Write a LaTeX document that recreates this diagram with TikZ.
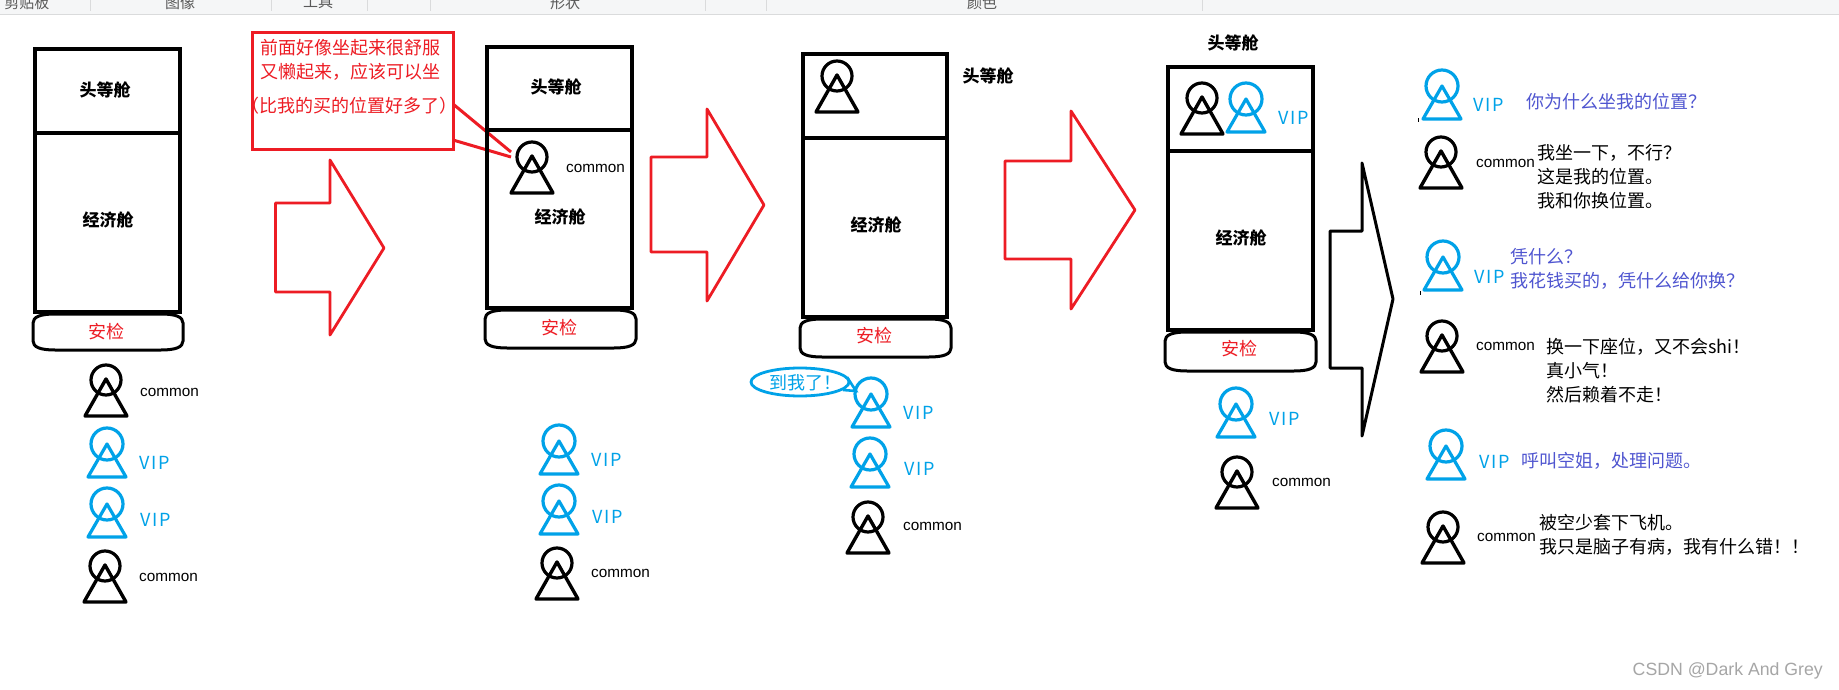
\documentclass[tikz,border=0pt]{standalone}
\usepackage{fontspec}
\setmainfont{Noto Sans CJK SC}
\newfontfamily\tagfont{Liberation Sans}
\newfontfamily\vipfont[LetterSpace=10]{Noto Sans CJK SC}
\newfontfamily\markfont{Liberation Sans}

\definecolor{paintred}{HTML}{ED1C24}
\definecolor{paintblue}{HTML}{00A2E8}
\definecolor{talkblue}{HTML}{4F55D0}
\definecolor{barbg}{HTML}{F5F6F7}
\definecolor{barline}{HTML}{DADBDC}

\tikzset{
    cabin/.style={line width=3.6pt,line join=miter},
    gate/.style={line width=3pt,fill=white},
    redarrow/.style={draw=paintred,line width=2.8pt,line join=round},
    seat/.style={font=\fontsize{17}{20}\selectfont\bfseries,inner sep=0pt},
    gatetxt/.style={font=\fontsize{18}{20}\selectfont,text=paintred,inner sep=0pt},
    redtxt/.style={font=\fontsize{18}{20}\selectfont,text=paintred,inner sep=0pt},
    commontag/.style={font=\tagfont\fontsize{15.3}{18}\selectfont,anchor=west,inner sep=0pt},
    viptag/.style={font=\vipfont\fontsize{18}{20}\selectfont,text=paintblue,anchor=west,inner sep=0pt},
    talk/.style={font=\fontsize{18}{24}\selectfont,align=left,anchor=west,inner sep=0pt},
    viptalk/.style={talk,text=talkblue},
    bartxt/.style={font=\fontsize{15}{15}\selectfont,text=black!65,inner sep=0pt},
}

% x, y of the head
\newcommand{\commonman}[2]{
    \draw[line width=3.2pt] (#1,#2) circle (15pt);
    \draw[line width=3.4pt,line join=round] (#1,#2-1) -- (#1+21,#2+36) -- (#1-21,#2+36) -- cycle;
}
\newcommand{\vipman}[2]{
    \draw[paintblue,line width=3.2pt] (#1,#2) circle (16pt);
    \draw[paintblue,line width=3.2pt,line join=round] (#1,#2) -- (#1+19,#2+33) -- (#1-19,#2+33) -- cycle;
}
% left, top, right, bottom
\newcommand{\gatebox}[4]{
    \draw[gate] (#1,#2+9) .. controls (#1,#2+3) and (#1+7,#2) .. (#1+22,#2) -- (#3-22,#2)
        .. controls (#3-7,#2) and (#3,#2+3) .. (#3,#2+9) -- (#3,#4-9)
        .. controls (#3,#4-3) and (#3-7,#4) .. (#3-22,#4) -- (#1+22,#4)
        .. controls (#1+7,#4) and (#1,#4-3) .. (#1,#4-9) -- cycle;
}

\begin{document}
\begin{tikzpicture}[x=1pt,y=-1pt]
    \clip (0,0) rectangle (1839,690);
    \fill[white] (0,0) rectangle (1839,690);

    % clipped toolbar
    \fill[barbg] (0,0) rectangle (1839,14);
    \draw[barline,line width=1.4pt] (0,14.3) -- (1839,14.3);
    \foreach \x in {90,271,367,430,705,766,1202} {
        \draw[barline,line width=1pt] (\x,0) -- (\x,11);
    }
    \node[bartxt] (barclip) at (27,2.5) {剪贴板};
    \node[bartxt] (barimage) at (180,2.5) {图像};
    \node[bartxt] (bartool) at (318,2.5) {工具};
    \node[bartxt] (barshape) at (565,2.5) {形状};
    \node[bartxt] (barcolor) at (982,2.5) {颜色};

    % first plane
    \draw[cabin] (35,49) rectangle (180,312);
    \draw[cabin] (35,133) -- (180,133);
    \gatebox{33}{314}{183}{350}
    \node[seat] (firsta) at (105,90) {头等舱};
    \node[seat] (ecoa) at (108,220) {经济舱};
    \node[gatetxt] (gatea) at (106,332) {安检};
    \commonman{106}{380}
    \node[commontag] (taga) at (140,392) {common};
    \vipman{107}{444}
    \node[viptag] (tagb) at (139,463) {VIP};
    \vipman{107}{504}
    \node[viptag] (tagc) at (140,520) {VIP};
    \commonman{105}{566}
    \node[commontag] (tagd) at (139,577) {common};

    % callout
    \draw[paintred,line width=3pt] (453,104) -- (511,152);
    \draw[paintred,line width=3pt] (453,140) -- (511,157);
    \draw[paintred,line width=3pt] (252,33) rectangle (453,150);
    \node[redtxt] (calla) at (350,48) {前面好像坐起来很舒服};
    \node[redtxt] (callb) at (350,72) {又懒起来，应该可以坐};
    \node[redtxt] (callc) at (349,106) {（比我的买的位置好多了）};

    \draw[redarrow] (275.5,203) -- (330,203) -- (330,160) -- (384,248) -- (330,335) -- (330,292) -- (275.5,292) -- cycle;

    % second plane
    \draw[cabin] (487,47) rectangle (632,308);
    \draw[cabin] (487,130) -- (632,130);
    \gatebox{485}{310}{636}{348}
    \node[seat] (firstb) at (556,87) {头等舱};
    \node[seat] (ecob) at (560,217) {经济舱};
    \node[gatetxt] (gateb) at (559,328) {安检};
    \commonman{532}{157}
    \node[commontag] (tage) at (566,168) {common};
    \vipman{559}{441}
    \node[viptag] (tagf) at (591,460) {VIP};
    \vipman{559}{501}
    \node[viptag] (tagg) at (592,517) {VIP};
    \commonman{557}{563}
    \node[commontag] (tagh) at (591,573) {common};

    \draw[redarrow] (651,157) -- (707,157) -- (707,109) -- (764,205) -- (707,301) -- (707,252) -- (651,252) -- cycle;

    % third plane
    \draw[cabin] (803,54) rectangle (947,317);
    \draw[cabin] (803,138) -- (947,138);
    \gatebox{800}{319}{951}{357}
    \node[seat] (firstc) at (988,76) {头等舱};
    \node[seat] (ecoc) at (876,225) {经济舱};
    \node[gatetxt] (gatec) at (874,336) {安检};
    \commonman{837}{76}
    \draw[paintblue,line width=2.6pt] (847,377) -- (856,391) -- (843,390);
    \draw[paintblue,line width=2.8pt,fill=white] (800,382) ellipse (49pt and 14pt);
    \node[font=\fontsize{18}{20}\selectfont,text=paintblue,inner sep=0pt] (myturn) at (805,383) {到我了！};
    \vipman{871}{394}
    \node[viptag] (tagi) at (903,413) {VIP};
    \vipman{870}{454}
    \node[viptag] (tagj) at (904,469) {VIP};
    \commonman{868}{517}
    \node[commontag] (tagk) at (903,526) {common};

    \draw[redarrow] (1005,161) -- (1071,161) -- (1071,111) -- (1135,210) -- (1071,309) -- (1071,259) -- (1005,259) -- cycle;

    % fourth plane
    \draw[cabin] (1168,67) rectangle (1313,330);
    \draw[cabin] (1168,151) -- (1313,151);
    \gatebox{1165}{332}{1316}{371}
    \node[seat] (firstd) at (1233,43) {头等舱};
    \node[seat] (ecod) at (1241,238) {经济舱};
    \node[gatetxt] (gated) at (1239,349) {安检};
    \commonman{1202}{98}
    \vipman{1246}{99}
    \node[viptag] (tagl) at (1278,118) {VIP};
    \vipman{1236}{404}
    \node[viptag] (tagm) at (1269,419) {VIP};
    \commonman{1237}{472}
    \node[commontag] (tagn) at (1272,482) {common};

    \draw[line width=3pt,line join=round] (1330,231) -- (1362,231) -- (1362,163) -- (1393,299) -- (1362,436) -- (1362,368) -- (1330,368) -- cycle;

    % dialogue
    \fill (1417.5,118) rectangle (1419,122);
    \fill (1419.5,291) rectangle (1421,295);
    \vipman{1442}{86}
    \node[viptag] (tago) at (1473,105) {VIP};
    \node[viptalk] (saya) at (1526,102) {你为什么坐我的位置？};
    \commonman{1441}{152}
    \node[commontag] (tagp) at (1476,163) {common};
    \node[talk] (sayb) at (1537,177) {我坐一下，不行？\\这是我的位置。\\我和你换位置。};
    \vipman{1443}{257}
    \node[viptag] (tagq) at (1474,277) {VIP};
    \node[viptalk] (sayc) at (1510,269) {凭什么？\\我花钱买的，凭什么给你换？};
    \commonman{1442}{336}
    \node[commontag] (tagr) at (1476,346) {common};
    \node[talk] (sayd) at (1546,371) {换一下座位，又不会shi！\\真小气！\\然后赖着不走！};
    \vipman{1446}{446}
    \node[viptag] (tags) at (1479,462) {VIP};
    \node[viptalk] (saye) at (1521,461) {呼叫空姐，处理问题。};
    \commonman{1443}{527}
    \node[commontag] (tagt) at (1477,537) {common};
    \node[talk] (sayf) at (1539,535) {被空少套下飞机。\\我只是脑子有病，我有什么错！！};

    \node[font=\markfont\fontsize{17.7}{20}\selectfont,text=black!35,anchor=east,inner sep=0pt] (mark) at (1823,671) {CSDN @Dark And Grey};
\end{tikzpicture}
\end{document}
